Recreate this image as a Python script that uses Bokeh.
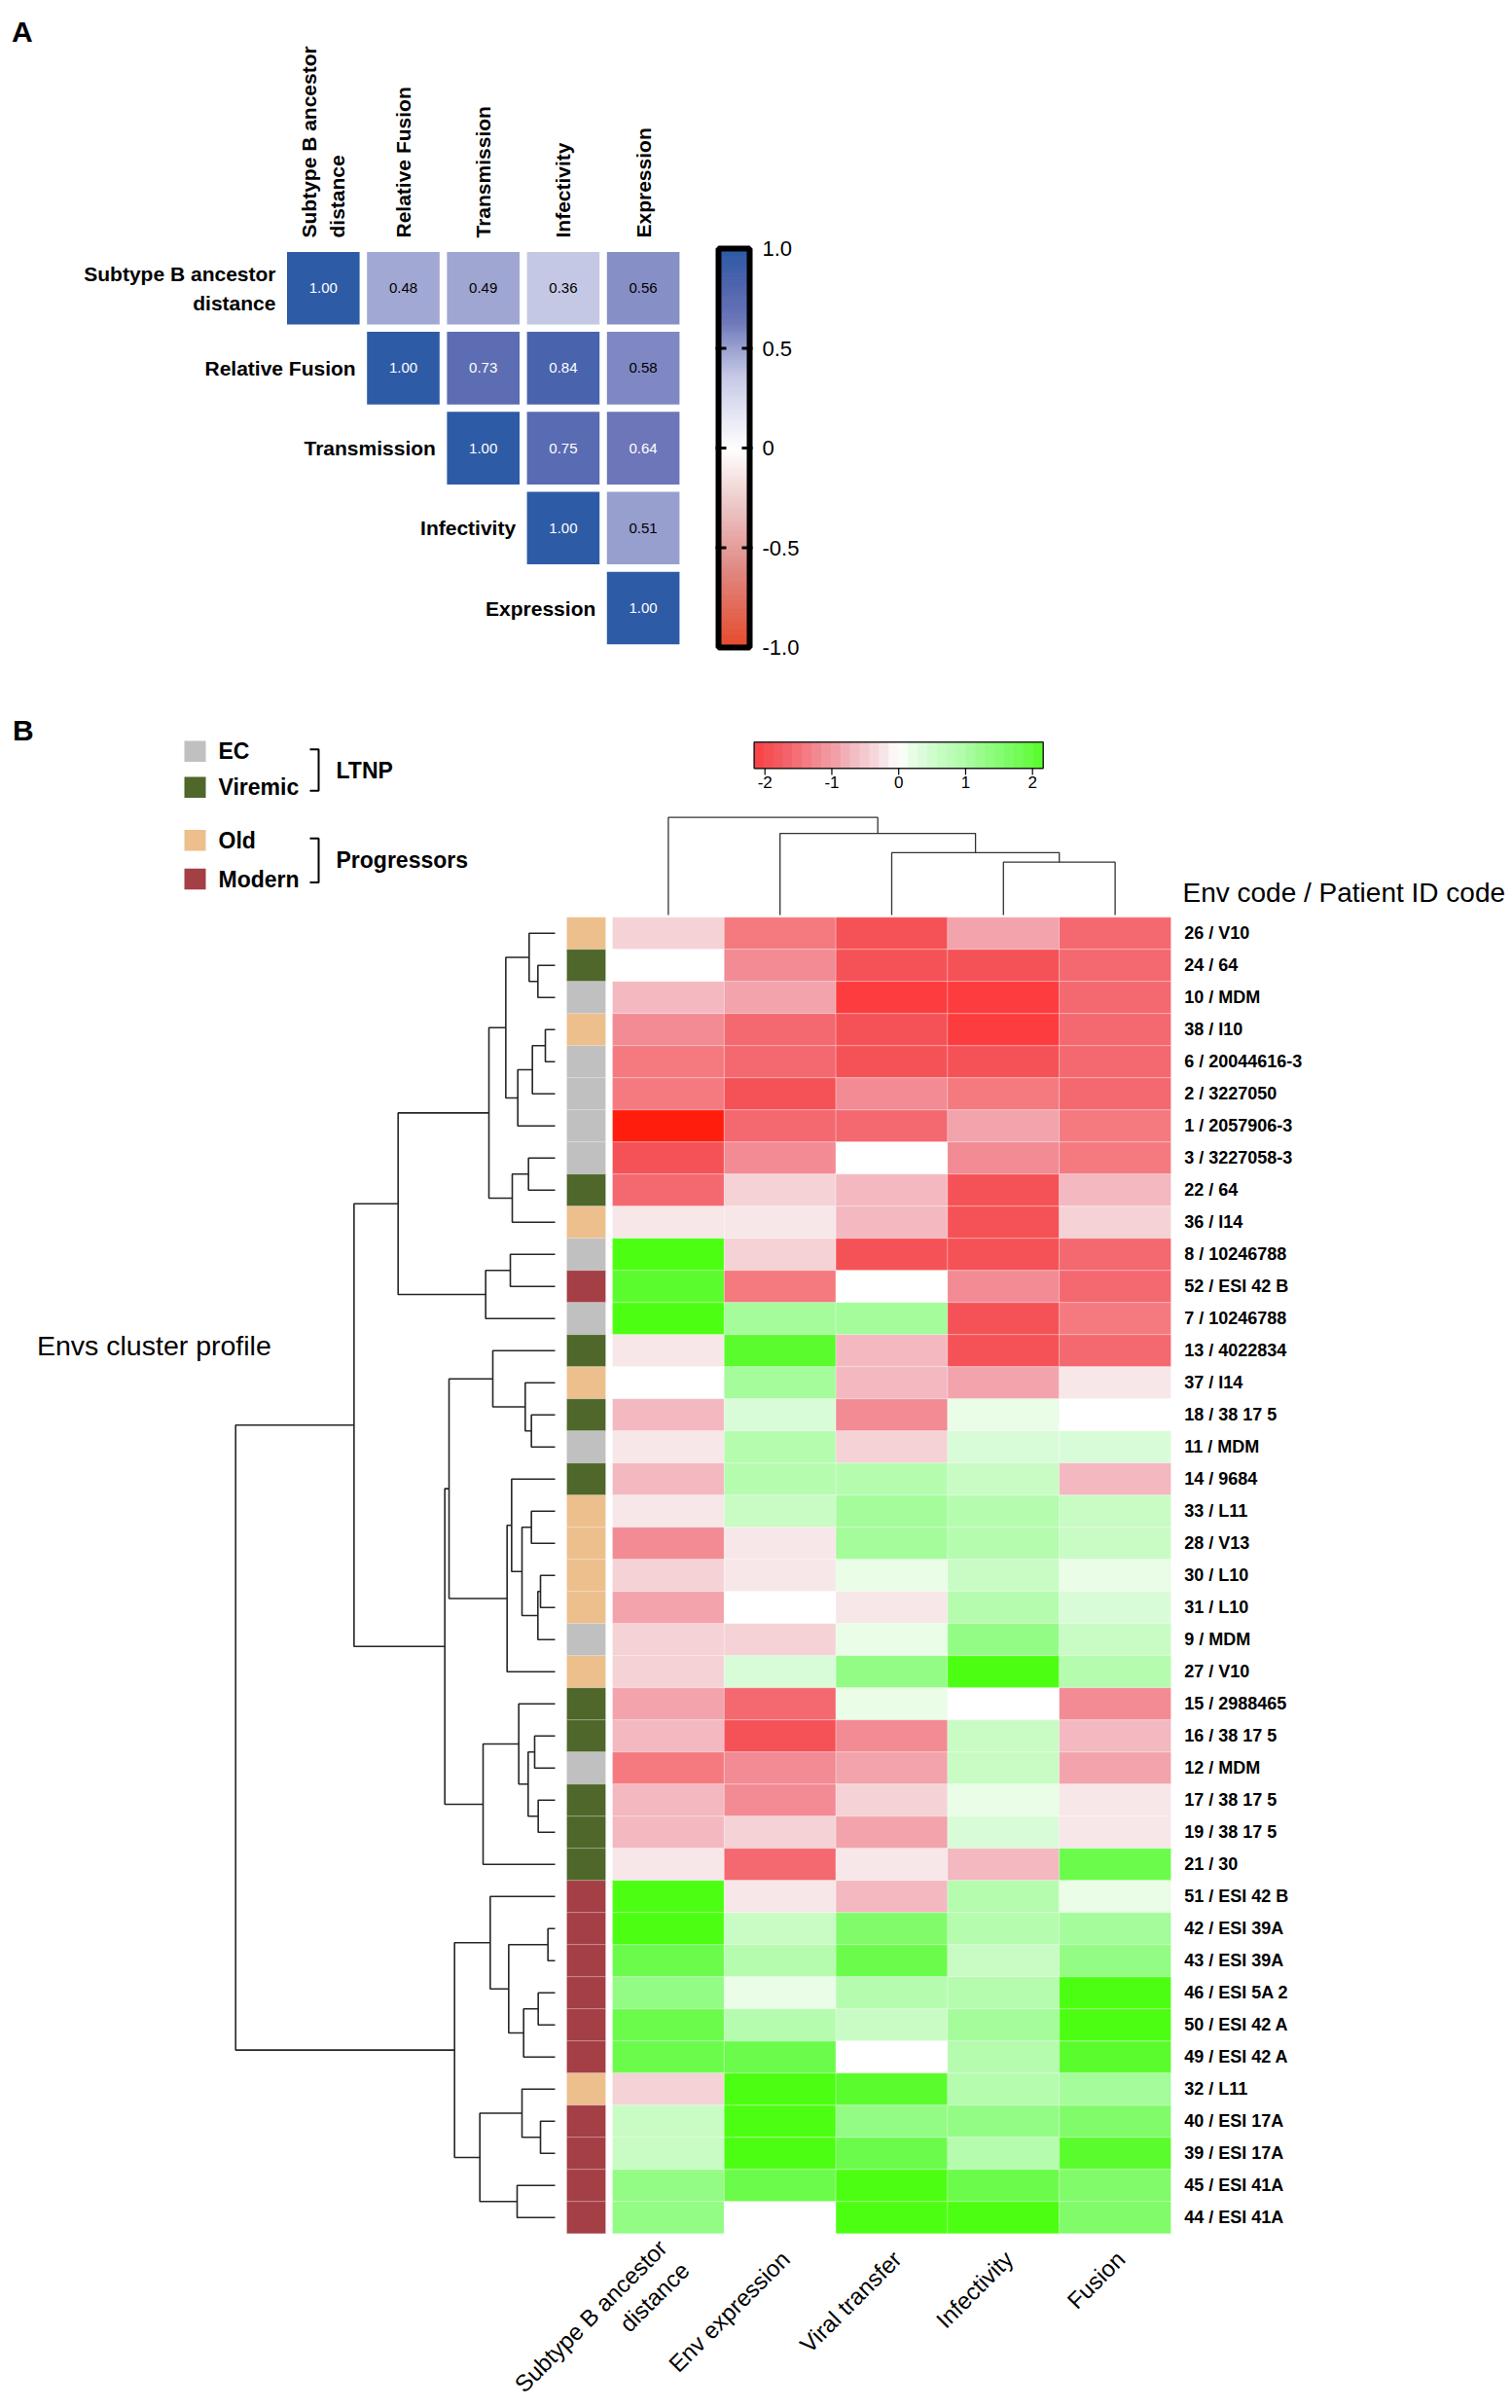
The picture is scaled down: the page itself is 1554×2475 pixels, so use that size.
import numpy as np
from bokeh.plotting import figure
from bokeh.models import Range1d, ColumnDataSource, LinearColorMapper, CategoricalColorMapper
from bokeh.embed import file_html
from bokeh.resources import INLINE
from bokeh.core.properties import value

# ---------------- DATA ----------------
# Panel A: correlation matrix (upper triangle, row by row)
corr_labels = ["Subtype B ancestor\ndistance", "Relative Fusion", "Transmission", "Infectivity", "Expression"]
corr_row1 = [1.00, 0.48, 0.49, 0.36, 0.56]
corr_row2 = [1.00, 0.73, 0.84, 0.58]
corr_row3 = [1.00, 0.75, 0.64]
corr_row4 = [1.00, 0.51]
corr_row5 = [1.00]
corr_ticks = [1.0, 0.5, 0.0, -0.5, -1.0]
corr_tick_labels = ["1.0", "0.5", "0", "-0.5", "-1.0"]

# Panel B: heatmap of z-scores
features = ["Subtype B ancestor\ndistance", "Env expression", "Viral transfer", "Infectivity", "Fusion"]
env_labels = ["26 / V10", "24 / 64", "10 / MDM", "38 / I10", "6 / 20044616-3", "2 / 3227050",
              "1 / 2057906-3", "3 / 3227058-3", "22 / 64", "36 / I14", "8 / 10246788", "52 / ESI 42 B",
              "7 / 10246788", "13 / 4022834", "37 / I14", "18 / 38 17 5", "11 / MDM", "14 / 9684",
              "33 / L11", "28 / V13", "30 / L10", "31 / L10", "9 / MDM", "27 / V10", "15 / 2988465",
              "16 / 38 17 5", "12 / MDM", "17 / 38 17 5", "19 / 38 17 5", "21 / 30", "51 / ESI 42 B",
              "42 / ESI 39A", "43 / ESI 39A", "46 / ESI 5A 2", "50 / ESI 42 A", "49 / ESI 42 A",
              "32 / L11", "40 / ESI 17A", "39 / ESI 17A", "45 / ESI 41A", "44 / ESI 41A"]
env_groups = ["Old", "Viremic", "EC", "Old", "EC", "EC", "EC", "EC", "Viremic", "Old", "EC", "Modern",
              "EC", "Viremic", "Old", "Viremic", "EC", "Viremic", "Old", "Old", "Old", "Old", "EC", "Old",
              "Viremic", "Viremic", "EC", "Viremic", "Viremic", "Viremic", "Modern", "Modern", "Modern",
              "Modern", "Modern", "Modern", "Old", "Modern", "Modern", "Modern", "Modern"]
z_distance = [-0.4, 0.0, -0.7, -1.2, -1.4, -1.4, -2.6, -1.9, -1.6, -0.2, 2.3, 2.1, 2.3, -0.2, 0.0,
              -0.7, -0.2, -0.7, -0.2, -1.2, -0.4, -0.9, -0.4, -0.4, -0.9, -0.7, -1.4, -0.7, -0.7,
              -0.2, 2.3, 2.3, 1.9, 1.3, 1.9, 1.9, -0.4, 0.6, 0.6, 1.3, 1.3]
z_expression = [-1.4, -1.2, -0.9, -1.6, -1.6, -1.9, -1.6, -1.2, -0.4, -0.2, -0.4, -1.4, 1.1, 2.1, 1.1,
                0.4, 0.9, 0.9, 0.6, -0.2, -0.2, 0.0, -0.4, 0.4, -1.6, -1.9, -1.2, -1.2, -0.4, -1.6,
                -0.2, 0.6, 0.9, 0.2, 0.9, 1.9, 2.3, 2.3, 2.3, 1.9, 0.0]
z_transfer = [-1.9, -1.9, -2.2, -1.9, -1.9, -1.2, -1.6, 0.0, -0.7, -0.7, -1.9, 0.0, 1.1, -0.7, -0.7,
              -1.2, -0.4, 0.9, 1.1, 1.1, 0.2, -0.2, 0.2, 1.3, 0.2, -1.2, -0.9, -0.4, -0.9, -0.2,
              -0.7, 1.6, 1.9, 0.9, 0.6, 0.0, 2.1, 1.3, 1.9, 2.3, 2.3]
z_infectivity = [-0.9, -1.9, -2.2, -2.2, -1.9, -1.4, -0.9, -1.2, -1.9, -1.9, -1.9, -1.2, -1.9, -1.9, -0.9,
                 0.2, 0.4, 0.6, 0.9, 0.9, 0.6, 0.9, 1.3, 2.3, 0.0, 0.6, 0.6, 0.2, 0.4, -0.7,
                 0.9, 0.9, 0.6, 0.9, 1.1, 0.9, 0.9, 1.3, 0.9, 1.9, 2.3]
z_fusion = [-1.6, -1.6, -1.6, -1.6, -1.6, -1.6, -1.4, -1.4, -0.7, -0.4, -1.6, -1.6, -1.4, -1.6, -0.2,
            0.0, 0.4, -0.7, 0.6, 0.6, 0.2, 0.4, 0.6, 0.9, -1.2, -0.7, -0.9, -0.2, -0.2, 1.9,
            0.2, 1.1, 1.3, 2.3, 2.3, 2.1, 1.1, 1.6, 2.1, 1.6, 1.6]

# Row dendrogram: (child a, child b, merge height); leaves 0..40, clusters numbered from 41
row_merges = [(1, 2, 0.53), (0, 41, 0.80), (3, 4, 0.30), (43, 5, 0.70), (44, 6, 1.15), (42, 45, 1.52),
              (7, 8, 0.82), (47, 9, 1.32), (46, 48, 2.04), (10, 11, 1.38), (50, 12, 2.14), (49, 51, 4.84),
              (15, 16, 0.73), (14, 53, 0.92), (13, 54, 1.92), (18, 19, 0.73), (20, 21, 0.45), (57, 22, 0.53),
              (56, 58, 1.02), (17, 59, 1.34), (60, 23, 1.48), (55, 61, 3.27), (25, 26, 0.63), (27, 28, 0.52),
              (63, 64, 0.83), (24, 65, 1.12), (66, 29, 2.22), (62, 67, 3.40), (52, 68, 6.20), (31, 32, 0.22),
              (33, 34, 0.52), (71, 35, 0.97), (70, 72, 1.43), (30, 73, 2.00), (37, 38, 0.45), (36, 75, 1.02),
              (39, 40, 1.17), (76, 77, 2.32), (74, 78, 3.10), (69, 79, 9.85)]
# Column dendrogram: leaves 0..4, clusters from 5
col_merges = [(3, 4, 0.33), (2, 5, 0.39), (1, 6, 0.51), (0, 7, 0.61)]

group_names = ["EC", "Viremic", "Old", "Modern"]
group_classes = ["LTNP", "LTNP", "Progressors", "Progressors"]
key_ticks = [-2, -1, 0, 1, 2]
key_tick_labels = ["-2", "-1", "0", "1", "2"]

# ---------------- STYLE / LAYOUT ----------------
FONT = value("Liberation Sans")
group_colors = ["#bfc0bf", "#4f672b", "#ecbf8c", "#a43f45"]
corr_stops = [(-1.0, "#e64a2b"), (-0.6, "#e08a84"), (-0.3, "#ecc4c4"), (0.0, "#ffffff"), (0.36, "#c6c9e6"),
              (0.5, "#9ca3d1"), (0.64, "#6c76b9"), (0.84, "#4b63ad"), (1.0, "#2e5ba6")]
z_stops = [(-2.6, "#ff1e0e"), (-2.2, "#fc3d40"), (-1.9, "#f55258"), (-1.6, "#f46870"), (-1.4, "#f47a80"),
           (-1.2, "#f28c94"), (-0.9, "#f2a4ac"), (-0.7, "#f3b8c0"), (-0.4, "#f5d2d6"), (-0.2, "#f7e6e8"),
           (0.0, "#ffffff"), (0.2, "#e8fde6"), (0.4, "#d9fcd8"), (0.6, "#c8fcc4"), (0.9, "#b6fcb0"),
           (1.1, "#a5fc9c"), (1.3, "#94fc86"), (1.6, "#80fc6a"), (1.9, "#6cfc4c"), (2.1, "#5cfc30"),
           (2.3, "#4cff12"), (2.6, "#48ff08")]


def ramp(stops, n=256):
    vals = np.array([s[0] for s in stops])
    cols = np.array([[int(c[1:3], 16), int(c[3:5], 16), int(c[5:7], 16)] for _, c in stops], dtype=float)
    out = []
    for x in np.linspace(vals[0], vals[-1], n):
        rgb = [int(round(np.interp(x, vals, cols[:, k]))) for k in range(3)]
        out.append("#%02x%02x%02x" % tuple(rgb))
    return out


corr_mapper = LinearColorMapper(palette=ramp(corr_stops), low=-1, high=1)
z_mapper = LinearColorMapper(palette=ramp(z_stops), low=-2.6, high=2.6)

# Bokeh's page template removes the body margin, so the canvas starts at the page origin
W, H = 1550, 2470
X0, Y0 = 0, 0
X1, Y1 = X0 + W, Y0 + H


def lin_x(v1, p1, v2, p2):
    m = (p2 - p1) / (v2 - v1)
    return Range1d(v1 + (X0 - p1) / m, v1 + (X1 - p1) / m)


def lin_y(v1, p1, v2, p2):
    m = (p2 - p1) / (v2 - v1)
    return Range1d(v1 + (Y1 - p1) / m, v1 + (Y0 - p1) / m)


p = figure(width=W, height=H, x_range=Range1d(X0, X1), y_range=Range1d(Y1, Y0),
           output_backend="svg", toolbar_location=None, min_border=0,
           x_axis_location=None, y_axis_location=None)
p.grid.visible = False
p.outline_line_color = None

# panel geometry (page pixels)
A_X0, A_Y0, A_PITCH = 294.5, 258.4, 82.2
A_CELL = 74.6 / A_PITCH
HM_L, HM_R, HM_T, HM_B = 629, 1203, 942.3, 2295.3
n_rows, n_cols = len(env_labels), len(features)

p.extra_x_ranges = {
    "ax": lin_x(0, A_X0, 5, A_X0 + 5 * A_PITCH),
    "hx": lin_x(0, HM_L, n_cols, HM_R),
    "dx": lin_x(0, 570, 9.85, 241.7),
    "kx": lin_x(-2, 785.7, 2, 1060.7),
}
p.extra_y_ranges = {
    "ay": lin_y(0, A_Y0, 5, A_Y0 + 5 * A_PITCH),
    "cby": lin_y(1, 255, -1, 665),
    "hy": lin_y(0, HM_T, n_rows, HM_B),
    "cdy": lin_y(0, 940, 1, 775.5),
}


def txt(x, y, t, size, xr="default", yr="default", **kw):
    args = dict(text_font=FONT, text_font_size=size, text_color=kw.pop("text_color", "black"))
    args.update(kw)
    return p.text(x=x, y=y, text=t, x_range_name=xr, y_range_name=yr, **args)


# ---------------- PANEL A ----------------
txt([11.5], [32], ["A"], "30px", text_font_style="bold", text_align="left", text_baseline="middle")

cx, cy, cv = [], [], []
for i, row in enumerate([corr_row1, corr_row2, corr_row3, corr_row4, corr_row5]):
    for k, v in enumerate(row):
        cx.append(i + k + A_CELL / 2)
        cy.append(i + A_CELL / 2)
        cv.append(v)
src_a = ColumnDataSource(dict(x=cx, y=cy, v=cv, t=["%.2f" % v for v in cv],
                              c=["white" if v > 0.6 else "black" for v in cv]))
p.rect(x="x", y="y", width=A_CELL, height=A_CELL, source=src_a, x_range_name="ax", y_range_name="ay",
       fill_color={"field": "v", "transform": corr_mapper}, line_color=None)
p.text(x="x", y="y", text="t", source=src_a, x_range_name="ax", y_range_name="ay",
       text_color="c", text_font=FONT, text_font_size="15px", text_align="center", text_baseline="middle")

# column labels (rotated) and row labels
txt([j + A_CELL / 2 for j in range(5)], [244] * 5, corr_labels, "21px", xr="ax",
    text_font_style="bold", text_align="left", text_baseline="middle", angle=np.pi / 2, text_line_height=1.27)
txt([i - 0.14 for i in range(5)], [i + A_CELL / 2 for i in range(5)], corr_labels, "21px", xr="ax", yr="ay",
    text_font_style="bold", text_align="right", text_baseline="middle", text_line_height=1.32)

# colour bar
steps = np.linspace(-1, 1, 161)
src_cb = ColumnDataSource(dict(b=steps[:-1], t=steps[1:], m=(steps[:-1] + steps[1:]) / 2))
p.quad(left=738, right=770, bottom="b", top="t", source=src_cb, y_range_name="cby",
       fill_color={"field": "m", "transform": corr_mapper},
       line_color={"field": "m", "transform": corr_mapper}, line_width=1)
p.quad(left=[738], right=[770], bottom=[-1], top=[1], y_range_name="cby",
       fill_color=None, line_color="black", line_width=6)
tk = [t for t in corr_ticks if abs(t) < 1]
p.segment(x0=[735] * len(tk), x1=[746] * len(tk), y0=tk, y1=tk, y_range_name="cby", line_color="black", line_width=3)
p.segment(x0=[762] * len(tk), x1=[773] * len(tk), y0=tk, y1=tk, y_range_name="cby", line_color="black", line_width=3)
txt([783] * 5, corr_ticks, corr_tick_labels, "22px", yr="cby", text_align="left", text_baseline="middle")

# ---------------- PANEL B ----------------
txt([12.5], [750], ["B"], "30px", text_font_style="bold", text_align="left", text_baseline="middle")

# group legend
leg_y = [771.7, 808.8, 863.3, 903]
p.quad(left=189, right=211, top=[y - 10.8 for y in leg_y], bottom=[y + 10.8 for y in leg_y],
       fill_color=group_colors, line_color=None)
txt([224] * 4, leg_y, group_names, "23px", text_font_style="bold", text_align="left", text_baseline="middle")
classes = list(dict.fromkeys(group_classes))
bxs, bys, cl_y = [], [], []
for c in classes:
    ys = [leg_y[i] for i, g in enumerate(group_classes) if g == c]
    top, bot = min(ys) - 2, max(ys) + 3.5
    bxs.append([318, 327, 327, 318])
    bys.append([top, top, bot, bot])
    cl_y.append((top + bot) / 2)
p.multi_line(bxs, bys, line_color="black", line_width=2)
txt([345] * len(classes), cl_y, classes, "23px", text_font_style="bold", text_align="left", text_baseline="middle")

# colour key
kb = np.linspace(-2.16, 2.16, 31)
src_k = ColumnDataSource(dict(l=kb[:-1], r=kb[1:], m=(kb[:-1] + kb[1:]) / 2))
p.quad(left="l", right="r", top=762.3, bottom=789.3, x_range_name="kx", source=src_k,
       fill_color={"field": "m", "transform": z_mapper}, line_color={"field": "m", "transform": z_mapper})
p.quad(left=[-2.16], right=[2.16], top=[762.3], bottom=[789.3], x_range_name="kx",
       fill_color=None, line_color="#222222", line_width=1.5)
p.segment(x0=key_ticks, x1=key_ticks, y0=[789.3] * 5, y1=[796] * 5, x_range_name="kx", line_color="black", line_width=1.2)
txt(key_ticks, [803] * 5, key_tick_labels, "17px", xr="kx", text_align="center", text_baseline="middle")

# heatmap
zcols = [z_distance, z_expression, z_transfer, z_infectivity, z_fusion]
hx, hy, hz = [], [], []
for j, col in enumerate(zcols):
    for i, z in enumerate(col):
        hx.append(j + 0.5)
        hy.append(i + 0.5)
        hz.append(z)
p.rect(x="x", y="y", width=1, height=1, source=ColumnDataSource(dict(x=hx, y=hy, z=hz)),
       x_range_name="hx", y_range_name="hy", fill_color={"field": "z", "transform": z_mapper},
       line_color="white", line_alpha=0.25, line_width=1)

# annotation strip
grp_mapper = CategoricalColorMapper(factors=group_names, palette=group_colors)
p.quad(left=582, right=622, top="t", bottom="b", y_range_name="hy",
       source=ColumnDataSource(dict(t=list(range(n_rows)), b=[i + 1 for i in range(n_rows)], g=env_groups)),
       fill_color={"field": "g", "transform": grp_mapper}, line_color="white", line_alpha=0.2, line_width=1)

# row labels and titles
txt([1216.7] * n_rows, [i + 0.5 for i in range(n_rows)], env_labels, "18px", yr="hy",
    text_font_style="bold", text_align="left", text_baseline="middle")
txt([1215], [917], ["Env code / Patient ID code"], "28px", text_align="left", text_baseline="middle")
txt([37.5], [1382], ["Envs cluster profile"], "28.5px", text_align="left", text_baseline="middle")

# column labels (rotated)
txt([j + 0.55 for j in range(n_cols)], [HM_B + 22] * n_cols, features, "24px", xr="hx",
    text_align="right", text_baseline="middle", angle=np.pi / 4, text_line_height=1.2)


def dendro(merges, n):
    pos = {i: i + 0.5 for i in range(n)}
    hgt = {i: 0.0 for i in range(n)}
    ps, hs = [], []
    for k, (a, b, h) in enumerate(merges):
        ps.append([pos[a], pos[a], pos[b], pos[b]])
        hs.append([hgt[a], h, h, hgt[b]])
        pos[n + k] = (pos[a] + pos[b]) / 2
        hgt[n + k] = h
    return ps, hs


rp, rh = dendro(row_merges, n_rows)
p.multi_line(xs=rh, ys=rp, x_range_name="dx", y_range_name="hy", line_color="#262626", line_width=1.6)
cp, ch = dendro(col_merges, n_cols)
p.multi_line(xs=cp, ys=ch, x_range_name="hx", y_range_name="cdy", line_color="#333333", line_width=1.3)

open("out.html", "w").write(file_html(p, INLINE))
